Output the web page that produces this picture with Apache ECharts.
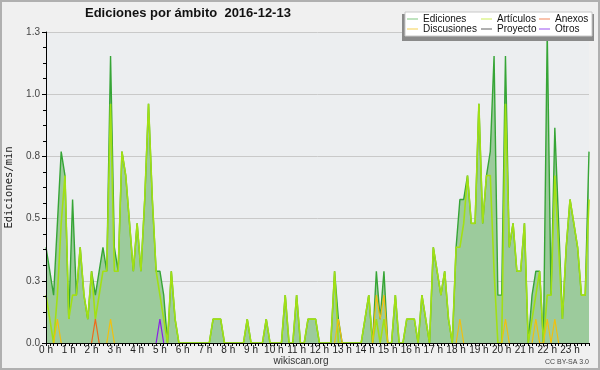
<!DOCTYPE html>
<html><head><meta charset="utf-8">
<script src="https://cdn.jsdelivr.net/npm/echarts@6/dist/echarts.min.js"></script>
<style>html,body{margin:0;padding:0;background:#f0f0f0}#c{width:600px;height:370px}</style>
</head><body><div id="c"></div>
<script>
// x-axis tick labels (one per hour, 6 bins of 10 min per hour)
const hourLabels = ["0 h","1 h","2 h","3 h","4 h","5 h","6 h","7 h","8 h","9 h","10 h","11 h","12 h","13 h","14 h","15 h","16 h","17 h","18 h","19 h","20 h","21 h","22 h","23 h"];
const binsPerHour = 6;
// y-axis ticks
const yMin = 0, yMax = 1.3, yStep = 0.26;

// Ediciones/min per 10-minute bin
const ediciones = [
 0.4,0.3,0.2,0.5,0.8,0.7,
 0.1,0.6,0.2,0.4,0.2,0.1,
 0.3,0.2,0.3,0.4,0.3,1.2,
 0.4,0.3,0.8,0.7,0.5,0.3,
 0.5,0.3,0.6,1.0,0.6,0.3,
 0.3,0.2,0,0.3,0.1,0,
 0,0,0,0,0,0,
 0,0,0.1,0.1,0.1,0,
 0,0,0,0,0,0.1,
 0,0,0,0,0.1,0,
 0,0,0,0.2,0,0,
 0.2,0,0,0.1,0.1,0.1,
 0,0,0,0,0.3,0.1,
 0,0,0,0,0,0,
 0.1,0.2,0,0.3,0.1,0.3,
 0,0,0.2,0,0,0.1,
 0.1,0.1,0,0.2,0.1,0,
 0.4,0.3,0.2,0.3,0.1,0,
 0.4,0.6,0.6,0.7,0.5,0.5,
 1.0,0.5,0.7,0.8,1.2,0.2,
 0.2,1.2,0.4,0.5,0.3,0.3,
 0.5,0,0.2,0.3,0.3,0,
 1.3,0.2,0.9,0.5,0.1,0.4,
 0.6,0.5,0.4,0.2,0.2,0.8
];
const articulos = [
 0.2,0.1,0,0.2,0.5,0.7,
 0.1,0.2,0.2,0.4,0.2,0.1,
 0.3,0.1,0.2,0.3,0.3,1.0,
 0.3,0.3,0.8,0.7,0.5,0.3,
 0.5,0.3,0.6,1.0,0.6,0.3,
 0.2,0.1,0,0.3,0.1,0,
 0,0,0,0,0,0,
 0,0,0.1,0.1,0.1,0,
 0,0,0,0,0,0.1,
 0,0,0,0,0.1,0,
 0,0,0,0.2,0,0,
 0.2,0,0,0.1,0.1,0.1,
 0,0,0,0,0.3,0,
 0,0,0,0,0,0,
 0.1,0.2,0,0.1,0,0.1,
 0,0,0.2,0,0,0.1,
 0.1,0.1,0,0.2,0.1,0,
 0.4,0.3,0.2,0.3,0.1,0,
 0.4,0.4,0.5,0.7,0.5,0.5,
 1.0,0.5,0.7,0.7,0.3,0,
 0,1.0,0.4,0.5,0.3,0.3,
 0.5,0,0.1,0.2,0.3,0,
 0.2,0.2,0.7,0.4,0.1,0.4,
 0.6,0.5,0.4,0.2,0.2,0.6
];
// sparse series: [bin index, value]; all other bins are 0
const discusiones = [[3,0.1],[17,0.1],[77,0.1],[87,0.2],[88,0.1],[89,0.2],[109,0.1],[121,0.1],[129,0.1],[132,0.1],[134,0.1]];
const anexos = [[13,0.1]];
const proyecto = [];
const otros = [[30,0.1]];

const nBins = hourLabels.length * binsPerHour;
const categories = [];
for (let h = 0; h < hourLabels.length; h++) for (let k = 0; k < binsPerHour; k++) categories.push(h + ':' + (k * 10));
// zeros next to a non-zero bin are kept; long zero runs (hidden under the axis line) are left empty
function expand(sparse) {
  const a = new Array(nBins).fill(null);
  sparse.forEach(p => {
    a[p[0]] = p[1];
    if (p[0] > 0 && a[p[0] - 1] === null) a[p[0] - 1] = 0;
    if (p[0] < nBins - 1 && a[p[0] + 1] === null) a[p[0] + 1] = 0;
  });
  return a;
}

const font = 'Liberation Sans';
const chart = echarts.init(document.getElementById('c'), null, { renderer: 'canvas' });
function lineSeries(name, data, color, width, extra) {
  return Object.assign({ name, type: 'line', data, symbol: 'none', xAxisIndex: 0, yAxisIndex: 0, connectNulls: false,
    lineStyle: { color, width }, itemStyle: { color }, animation: false }, extra || {});
}
const legendBase = { orient: 'vertical', top: 14, itemGap: 0, padding: 0, icon: 'rect', itemWidth: 11, itemHeight: 1,
  textStyle: { fontFamily: font, fontSize: 10, color: '#111', lineHeight: 10 }, selectedMode: false, z: 10 };
chart.setOption({
  backgroundColor: '#f0f0f0',
  animation: false,
  title: { text: 'Ediciones por ámbito  2016-12-13', left: 85, top: 7, padding: 0,
    textStyle: { fontFamily: font, fontSize: 13, fontWeight: 'bold', color: '#111' } },
  grid: { left: 46, right: 11, top: 32, bottom: 27, show: true, backgroundColor: '#eceef0', borderWidth: 0,
    containLabel: false, outerBoundsMode: 'none' },
  legend: [
    Object.assign({}, legendBase, { left: 407, data: [{ name: 'Ediciones', itemStyle: { color: '#7fc77f' } }, { name: 'Discusiones', itemStyle: { color: '#f5d050' } }] }),
    Object.assign({}, legendBase, { left: 481, data: [{ name: 'Artículos', itemStyle: { color: '#cdef5a' } }, { name: 'Proyecto', itemStyle: { color: '#606060' } }] }),
    Object.assign({}, legendBase, { left: 539, data: [{ name: 'Anexos', itemStyle: { color: '#f2875a' } }, { name: 'Otros', itemStyle: { color: '#9a50f0' } }] })
  ],
  xAxis: [{
    type: 'category', data: categories, boundaryGap: false, z: 10, position: 'bottom',
    axisLine: { lineStyle: { color: '#000', width: 1 } },
    axisTick: { show: true, interval: 0, length: 3, lineStyle: { color: '#000' } },
    axisLabel: { interval: (i) => i % binsPerHour === 0, formatter: (v, i) => hourLabels[Math.floor(i / binsPerHour)],
      margin: 2, fontFamily: font, fontSize: 10, color: '#222' },
    splitLine: { show: false }
  }],
  yAxis: [{
    type: 'value', min: yMin, max: yMax, interval: yStep, z: 0, position: 'left',
    axisLine: { show: false }, axisTick: { show: false }, axisLabel: { show: false },
    splitLine: { show: true, lineStyle: { color: '#c9c9c9', width: 1 } }
  }, {
    type: 'value', min: yMin, max: yMax, interval: yStep, z: 10, position: 'left', offset: 0,
    name: 'Ediciones/min', nameLocation: 'middle', nameRotate: 90, nameGap: 26,
    nameTextStyle: { fontFamily: 'DejaVu Sans Mono', fontSize: 10.5, color: '#222' },
    axisLine: { show: true, lineStyle: { color: '#000', width: 1 } },
    axisTick: { show: true, length: 4, lineStyle: { color: '#000' } },
    minorTick: { show: true, splitNumber: 4, length: 3, lineStyle: { color: '#000' } },
    axisLabel: { formatter: v => v.toFixed(1), margin: 6, fontFamily: font, fontSize: 10, color: '#444' },
    splitLine: { show: false }
  }],
  graphic: [
    { type: 'rect', shape: { x: 1, y: 1, width: 598, height: 368 }, style: { fill: 'none', stroke: '#b0b0b0', lineWidth: 2 }, z: 100 },
    { type: 'rect', shape: { x: 402, y: 14, width: 192, height: 27 }, style: { fill: '#8a8a8a' }, z: 5 },
    { type: 'rect', shape: { x: 405, y: 12, width: 187, height: 24 }, style: { fill: '#ffffff', stroke: '#c8c8c8', lineWidth: 1 }, z: 6 },
    { type: 'text', x: 301, y: 361, style: { text: 'wikiscan.org', fontFamily: font, fontSize: 10, fill: '#333', textAlign: 'center', textVerticalAlign: 'middle' }, z: 10 },
    { type: 'text', x: 589, y: 362, style: { text: 'CC BY-SA 3.0', fontFamily: font, fontSize: 7, fill: '#444', textAlign: 'right', textVerticalAlign: 'middle' }, z: 10 }
  ],
  series: [
    lineSeries('Ediciones', ediciones, '#36a536', 1.4, { areaStyle: { color: '#9ccb9c', opacity: 1 }, z: 2 }),
    lineSeries('Artículos', articulos, '#a2e014', 1.6, { z: 3 }),
    lineSeries('Anexos', expand(anexos), '#ee6a1a', 1.2, { z: 4 }),
    lineSeries('Discusiones', expand(discusiones), '#f0c010', 1.2, { z: 4 }),
    lineSeries('Proyecto', expand(proyecto), '#555555', 1.2, { z: 4 }),
    lineSeries('Otros', expand(otros), '#8a1ee6', 1.2, { z: 4 })
  ]
});
</script></body></html>
